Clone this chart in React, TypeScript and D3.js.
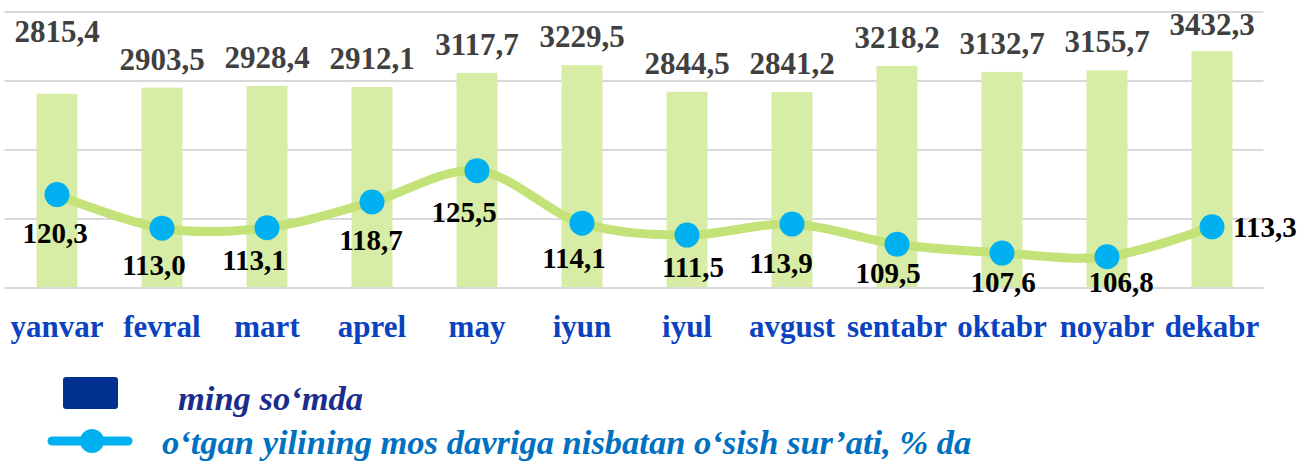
import React from "react";
import * as d3 from "d3";

const months = ["yanvar", "fevral", "mart", "aprel", "may", "iyun", "iyul", "avgust", "sentabr", "oktabr", "noyabr", "dekabr"];
const wages = [2815.4, 2903.5, 2928.4, 2912.1, 3117.7, 3229.5, 2844.5, 2841.2, 3218.2, 3132.7, 3155.7, 3432.3];
const growth = [120.3, 113.0, 113.1, 118.7, 125.5, 114.1, 111.5, 113.9, 109.5, 107.6, 106.8, 113.3];
const barTicks = [0, 1000, 2000, 3000, 4000];
const legendBar = "ming so\u2018mda";
const legendLine = "o\u2018tgan yilining mos davriga nisbatan o\u2018sish sur\u2019ati, % da";

// label nudges (styling only)
const barLabelNudge = [-34, 0, 0, 0, 0, 0, 0, 0, 0, 0, 0, 2];
const lineLabelDx = [-2, -8, -13, -1, -13, -8, 6, -11, -9, 1, 14, 0];
const lineLabelDy = [48, 47, 42, 48, 51, 45, 42, 49, 39, 39, 35, 10];

const fmt = (v: number) => v.toFixed(1).replace(".", ",");
const SERIF = "'Liberation Serif', 'Times New Roman', Tinos, serif";

export default function App() {
  const W = 1300, H = 462;
  const top = 12, bottom = 288, left = 4.5, right = 1264.5;
  const x = d3.scaleBand<string>().domain(months).range([left, right]).paddingInner(0.61).paddingOuter(0.305);
  const y = d3.scaleLinear().domain([0, 4000]).range([bottom, top]);
  const y2 = d3.scaleLinear().domain([100, 160]).range([bottom, top]);
  const cx = (m: string) => (x(m) as number) + x.bandwidth() / 2;
  const pts: [number, number][] = months.map((m, i) => [cx(m), y2(growth[i])]);
  const line = d3.line().curve(d3.curveCatmullRom.alpha(0.5))(pts) as string;
  const ts = (size: number, color: string, italic = false): React.CSSProperties => ({
    fontFamily: SERIF,
    fontSize: size,
    fontWeight: 700,
    fontStyle: italic ? "italic" : "normal",
    fill: color,
  });

  return (
    <svg width={W} height={H} style={{ position: "absolute", left: 0, top: 0, background: "#fff" }}>
      {barTicks.map((t) => (
        <line key={t} x1={left} x2={right - 1} y1={y(t)} y2={y(t)} stroke="#d9d9d9" strokeWidth={2} />
      ))}
      {months.map((m, i) => (
        <rect key={m} x={x(m)} y={y(wages[i])} width={x.bandwidth()} height={bottom - y(wages[i]) - 1} fill="#d7eca4" />
      ))}
      {months.map((m, i) => (
        <text key={"bl" + m} x={cx(m)} y={y(wages[i]) - 18 + barLabelNudge[i]} textAnchor="middle" style={ts(31, "#404040")}>
          {fmt(wages[i])}
        </text>
      ))}
      <path d={line} fill="none" stroke="#c3e277" strokeWidth={9} strokeLinecap="round" />
      {pts.map((p, i) => (
        <circle key={"c" + i} cx={p[0]} cy={p[1]} r={12.5} fill="#00b0f0" />
      ))}
      {pts.map((p, i) => (
        <text
          key={"ll" + i}
          x={i === 11 ? p[0] + 21 : p[0] + lineLabelDx[i]}
          y={p[1] + lineLabelDy[i]}
          textAnchor={i === 11 ? "start" : "middle"}
          style={ts(29, "#000")}
        >
          {fmt(growth[i])}
        </text>
      ))}
      {months.map((m) => (
        <text key={"m" + m} x={cx(m)} y={337} textAnchor="middle" style={ts(31, "#0a42c0")}>
          {m}
        </text>
      ))}
      <rect x={63} y={377} width={55} height={32} rx={3} fill="#003090" />
      <text x={178} y={410} style={ts(34.5, "#1b2d8c", true)}>{legendBar}</text>
      <line x1={52} x2={128} y1={441} y2={441} stroke="#00b0f0" strokeWidth={9} strokeLinecap="round" />
      <circle cx={92} cy={441} r={12} fill="#00b0f0" />
      <text x={162} y={454} style={ts(34.5, "#0070c0", true)}>{legendLine}</text>
    </svg>
  );
}
